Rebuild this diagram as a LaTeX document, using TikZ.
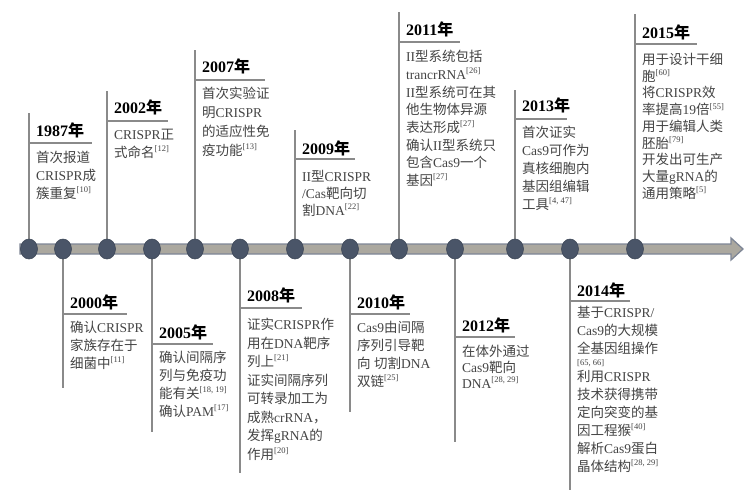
\documentclass[tikz,border=0pt]{standalone}
\usepackage{fontspec}
\usetikzlibrary{shapes.geometric}
\setmainfont{Liberation Serif}
\newfontfamily\cjkfont{Noto Sans CJK SC}
\XeTeXinterchartokenstate=1
\newXeTeXintercharclass\cjkclass
\makeatletter
\count@="4E00
\loop\XeTeXcharclass\count@=\cjkclass \ifnum\count@<"9FFF \advance\count@ by 1 \repeat
\makeatother
\XeTeXcharclass"FF0C=\cjkclass
\XeTeXinterchartoks 0 \cjkclass={\begingroup\cjkfont}
\XeTeXinterchartoks 4095 \cjkclass={\begingroup\cjkfont}
\XeTeXinterchartoks \cjkclass 0={\endgroup}
\XeTeXinterchartoks \cjkclass 4095={\endgroup}
\newcommand\rf[1]{\raisebox{0.42em}{\fontsize{8.5}{8.5}\selectfont[#1]}}
\definecolor{linegray}{HTML}{8A8A8A}
\definecolor{bandfill}{HTML}{ABA89F}
\definecolor{bandedge}{HTML}{7E8696}
\definecolor{dotfill}{HTML}{4A5568}
\definecolor{dotedge}{HTML}{3E4858}
\definecolor{bodygray}{HTML}{444444}
\tikzset{
  vline/.style={draw=linegray, line width=1.3pt},
  yrule/.style={draw=linegray, line width=1.3pt},
  yr/.style={anchor=west, inner sep=0pt, font=\fontsize{16}{16}\selectfont\bfseries, text=black},
  body/.style={anchor=north west, inner sep=0pt, align=left, font=\fontsize{13.5}{#1}\selectfont, text=bodygray},
  body/.default=18,
  dot/.style={ellipse, fill=dotfill, draw=dotedge, line width=0.6pt, minimum width=17pt, minimum height=20pt, inner sep=0pt},
  band/.style={fill=bandfill, draw=bandedge, line width=1.3pt, line join=miter}
}
\begin{document}
\begin{tikzpicture}[x=1pt,y=-1pt]
\fill[white] (0,0) rectangle (750,501);
\useasboundingbox (0,0) rectangle (750,501);
% circle positions
\coordinate (p1) at (29,249);
\coordinate (p2) at (63,249);
\coordinate (p3) at (107,249);
\coordinate (p4) at (152,249);
\coordinate (p5) at (195,249);
\coordinate (p6) at (240,249);
\coordinate (p7) at (295,249);
\coordinate (p8) at (350,249);
\coordinate (p9) at (399,249);
\coordinate (p10) at (455,249);
\coordinate (p11) at (515,249);
\coordinate (p12) at (570,249);
\coordinate (p13) at (635,249);
% line ends
\coordinate (e1) at (29,113);
\coordinate (e2) at (63,388);
\coordinate (e3) at (107,91);
\coordinate (e4) at (152,432);
\coordinate (e5) at (195,50);
\coordinate (e6) at (240,473);
\coordinate (e7) at (295,130);
\coordinate (e8) at (350,412);
\coordinate (e9) at (399,12);
\coordinate (e10) at (455,442);
\coordinate (e11) at (515,90);
\coordinate (e12) at (570,490);
\coordinate (e13) at (635,14);
\foreach \i in {1,...,13} \draw[vline] (p\i) -- (e\i);
% rules under the years
\draw[yrule] (29,143) -- (92,143);
\draw[yrule] (63,314) -- (127,314);
\draw[yrule] (107,121) -- (168,121);
\draw[yrule] (152,344) -- (213,344);
\draw[yrule] (195,80) -- (265,80);
\draw[yrule] (240,308) -- (302,308);
\draw[yrule] (295,159) -- (355,159);
\draw[yrule] (350,314) -- (410,314);
\draw[yrule] (399,42) -- (460,42);
\draw[yrule] (455,337) -- (515,337);
\draw[yrule] (515,119) -- (567,119);
\draw[yrule] (570,301) -- (630,301);
\draw[yrule] (635,44) -- (697,44);
% timeline arrow
\draw[band] (20,244) -- (731,244) -- (731,238) -- (743,249) -- (731,260) -- (731,254) -- (20,254) -- cycle;
\foreach \i in {1,...,13} \node[dot] (c\i) at (p\i) {};
% years
\node[yr] (y1) at (36,130) {1987年};
\node[yr] (y2) at (70,302) {2000年};
\node[yr] (y3) at (114,107) {2002年};
\node[yr] (y4) at (159,332) {2005年};
\node[yr] (y5) at (202,66) {2007年};
\node[yr] (y6) at (247,295) {2008年};
\node[yr] (y7) at (302,148) {2009年};
\node[yr] (y8) at (357,302) {2010年};
\node[yr] (y9) at (406,29) {2011年};
\node[yr] (y10) at (462,325) {2012年};
\node[yr] (y11) at (522,105) {2013年};
\node[yr] (y12) at (577,290) {2014年};
\node[yr] (y13) at (642,32) {2015年};
% texts
\node[body] (b1) at (36,151) {首次报道\\CRISPR成\\簇重复\rf{10}};
\node[body] (b2) at (70,321) {确认CRISPR\\家族存在于\\细菌中\rf{11}};
\node[body] (b3) at (114,129) {CRISPR正\\式命名\rf{12}};
\node[body] (b4) at (159,351) {确认间隔序\\列与免疫功\\能有关\rf{18, 19}\\确认PAM\rf{17}};
\node[body=19] (b5) at (202,87) {首次实验证\\明CRISPR\\的适应性免\\疫功能\rf{13}};
\node[body=18.5] (b6) at (247,318) {证实CRISPR作\\用在DNA靶序\\列上\rf{21}\\证实间隔序列\\可转录加工为\\成熟crRNA，\\发挥gRNA的\\作用\rf{20}};
\node[body=17] (b7) at (302,170) {II型CRISPR\\/Cas靶向切\\割DNA\rf{22}};
\node[body] (b8) at (357,321) {Cas9由间隔\\序列引导靶\\向 切割DNA\\双链\rf{25}};
\node[body=17.7] (b9) at (406,50) {II型系统包括\\trancrRNA\rf{26}\\II型系统可在其\\他生物体异源\\表达形成\rf{27}\\确认II型系统只\\包含Cas9一个\\基因\rf{27}};
\node[body=16] (b10) at (462,345) {在体外通过\\Cas9靶向\\DNA\rf{28, 29}};
\node[body] (b11) at (522,126) {首次证实\\Cas9可作为\\真核细胞内\\基因组编辑\\工具\rf{4, 47}};
\node[body] (b12) at (577,306) {基于CRISPR/\\Cas9的大规模\\全基因组操作\\[-6pt]{\fontsize{8.5}{8.5}\selectfont[65, 66]}\\[-2pt]利用CRISPR\\技术获得携带\\定向突变的基\\因工程猴\rf{40}\\解析Cas9蛋白\\晶体结构\rf{28, 29}};
\node[body=16.7] (b13) at (642,53) {用于设计干细\\胞\rf{60}\\将CRISPR效\\率提高19倍\rf{55}\\用于编辑人类\\胚胎\rf{79}\\开发出可生产\\大量gRNA的\\通用策略\rf{5}};
\end{tikzpicture}
\end{document}
